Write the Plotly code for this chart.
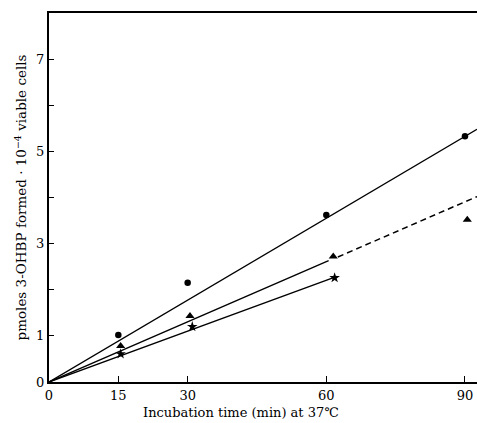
import plotly.graph_objects as go

# ---- data ----
time_circle = [15, 30, 60, 90]
val_circle = [1.02, 2.15, 3.62, 5.33]

time_tri = [15.5, 30.5, 61.5, 90.5]
val_tri = [0.78, 1.43, 2.72, 3.52]

time_star = [15.5, 31, 61.8]
val_star = [0.61, 1.2, 2.26]

# regression lines
line_circle_x = [0, 92.6]
line_circle_y = [0, 5.48]
line_tri_solid_x = [0, 60.5]
line_tri_solid_y = [0, 2.63]
line_tri_dash_x = [62.5, 92.6]
line_tri_dash_y = [2.71, 4.02]
line_star_x = [0, 62.3]
line_star_y = [0, 2.29]

x_ticks = [0, 15, 30, 60, 90]
y_ticks = [0, 1, 3, 5, 7]
y_minor_ticks = [2, 4, 6]

FONT = "DejaVu Serif"
fig = go.Figure()

line_style = dict(color="black", width=1.4)
fig.add_trace(go.Scatter(x=line_circle_x, y=line_circle_y, mode="lines", line=line_style))
fig.add_trace(go.Scatter(x=line_tri_solid_x, y=line_tri_solid_y, mode="lines", line=line_style))
fig.add_trace(go.Scatter(x=line_tri_dash_x, y=line_tri_dash_y, mode="lines",
                         line=dict(color="black", width=1.5, dash="6px,4px")))
fig.add_trace(go.Scatter(x=line_star_x, y=line_star_y, mode="lines", line=line_style))

fig.add_trace(go.Scatter(x=time_circle, y=val_circle, mode="markers",
                         marker=dict(symbol="circle", size=6.5, color="black")))
fig.add_trace(go.Scatter(x=time_tri, y=val_tri, mode="markers",
                         marker=dict(symbol="triangle-up", size=8, color="black")))
fig.add_trace(go.Scatter(x=time_star, y=val_star, mode="markers",
                         marker=dict(symbol="star", size=8, color="black")))

fig.update_layout(
    width=477, height=423,
    margin=dict(l=49, r=0, t=13, b=41),
    paper_bgcolor="white", plot_bgcolor="white",
    showlegend=False,
    font=dict(family=FONT, size=13, color="black"),
    xaxis=dict(range=[0, 92.6], tickvals=x_ticks, ticks="inside", ticklen=6,
               tickwidth=1.2, tickcolor="black", showline=True, linecolor="black",
               linewidth=2, mirror=True, showgrid=False, zeroline=False,
               tickfont=dict(family=FONT, size=13), ticklabelstandoff=0),
    yaxis=dict(range=[0, 8], tickvals=y_ticks, ticks="inside",
               ticklen=5, tickwidth=1.2, tickcolor="black", showline=True,
               linecolor="black", linewidth=2, showgrid=False, zeroline=False,
               minor=dict(tickvals=y_minor_ticks, ticks="inside", ticklen=5,
                          tickwidth=1.2, tickcolor="black", showgrid=False),
               tickfont=dict(family=FONT, size=13),
               title=dict(text="pmoles 3-OHBP formed · 10<sup>−4</sup> viable cells",
                          font=dict(family=FONT, size=13.5), standoff=6)),
    annotations=[
        dict(text="Incubation time (min) at 37℃", xref="paper", yref="paper",
             x=(241 - 49) / 428, y=-31 / 369, xanchor="center", yanchor="middle",
             showarrow=False, font=dict(family=FONT, size=13)),
    ],
)

fig.write_html("out.html")
